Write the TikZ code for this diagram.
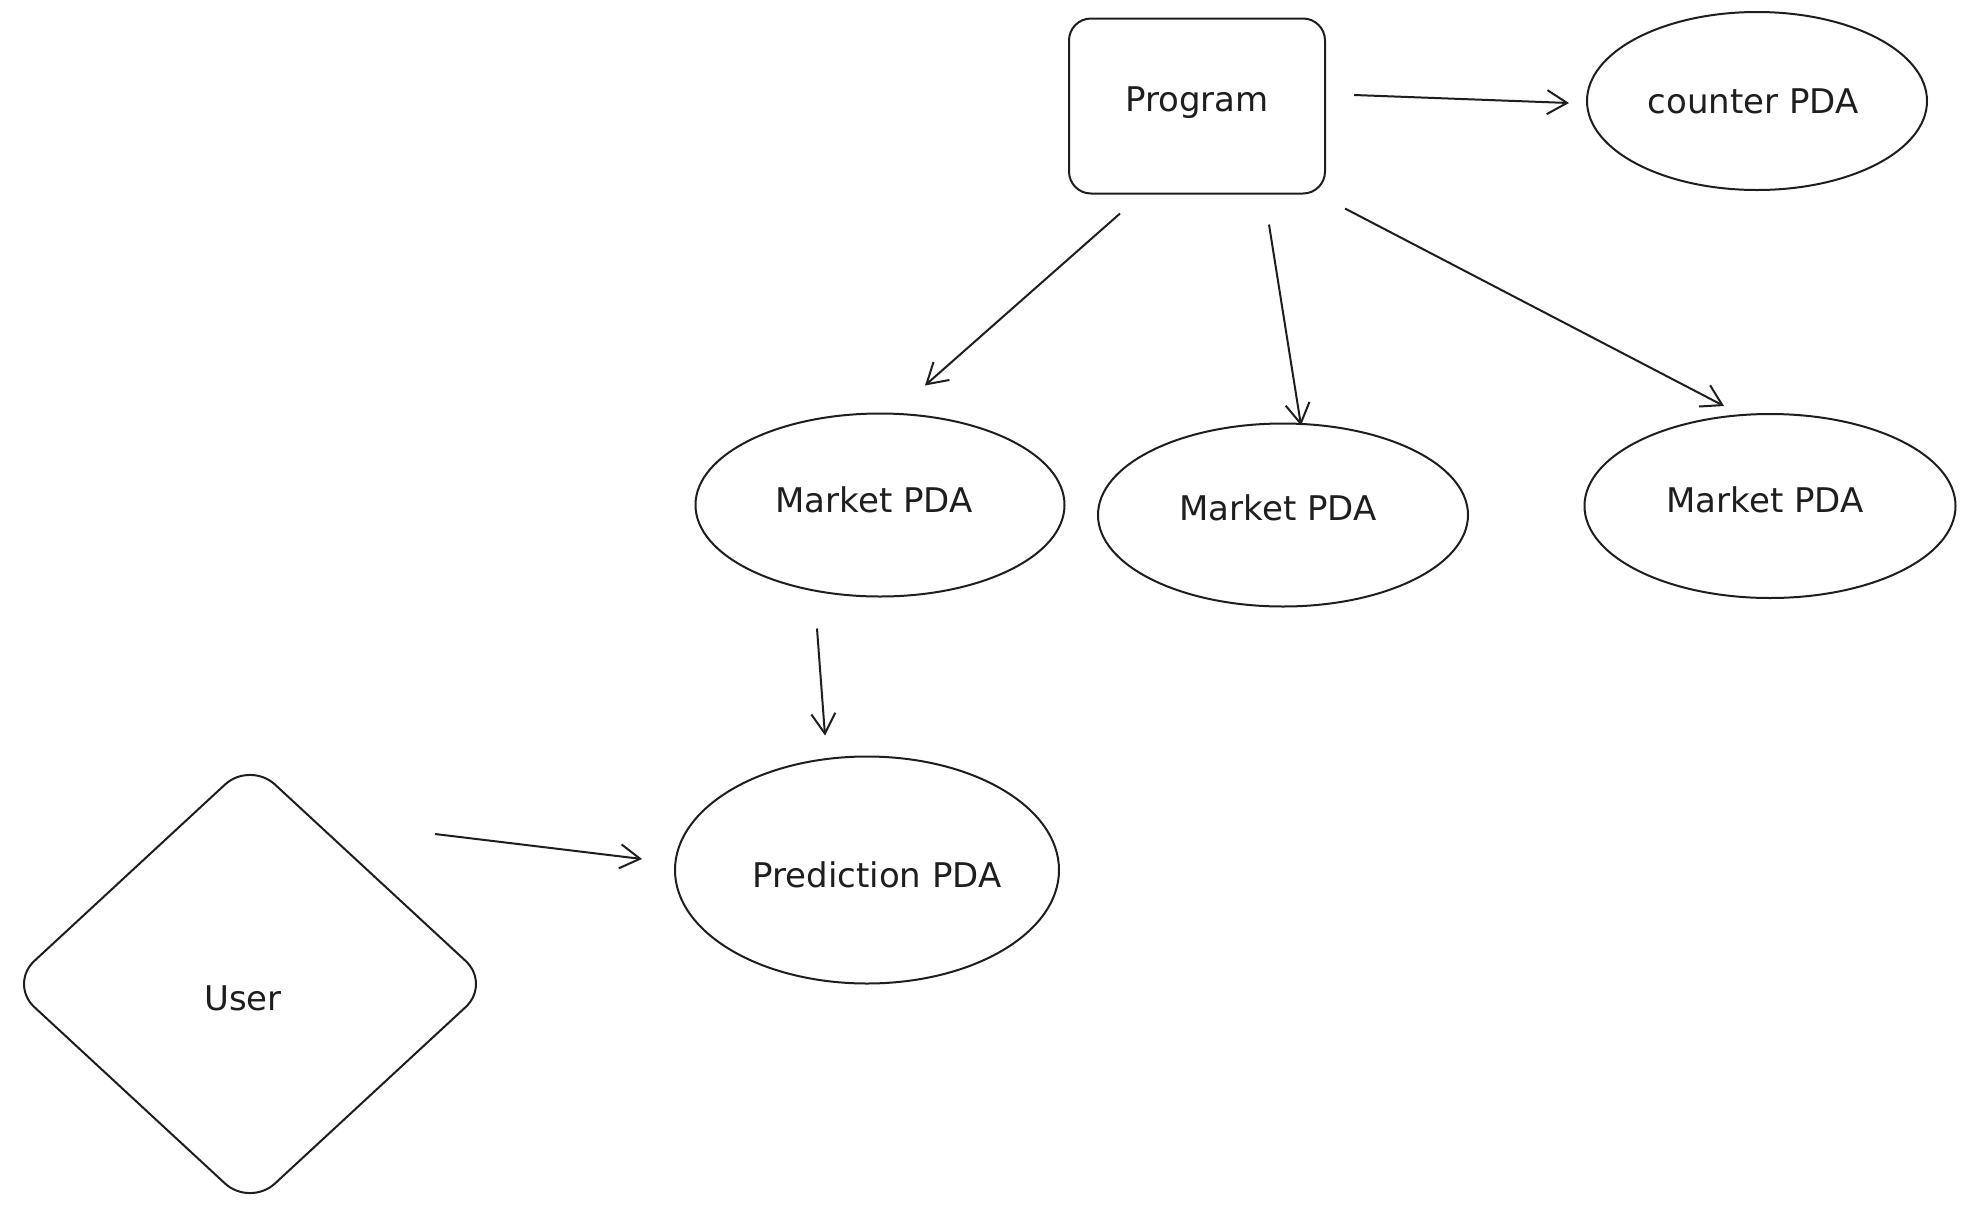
\documentclass[tikz,border=0pt]{standalone}
\usepackage{fontspec}
\setmainfont{DejaVu Sans}
\usetikzlibrary{shapes.geometric,arrows.meta,calc}
\definecolor{ink}{HTML}{1E1E1E}
\tikzset{
  base/.style={draw=ink, line width=2pt, inner sep=0pt},
  txt/.style={text=ink, inner sep=0pt, font=\fontsize{34}{40}\selectfont},
  boxnode/.style={base, rectangle, rounded corners=22pt, minimum width=256pt, minimum height=175pt},
  ovalnode/.style={base, ellipse},
  usernode/.style={base, diamond, rounded corners=34pt, minimum width=482pt, minimum height=446pt},
  arr/.style={draw=ink, line width=2pt, -{Straight Barb[length=20pt,width=24pt,line width=2pt]}}
}
\begin{document}
\begin{tikzpicture}[x=1pt,y=-1pt]
\useasboundingbox[fill=white] (0,0) rectangle (1966,1216);

\node[boxnode, label={[txt,yshift=3pt]center:Program}] (prog) at (1197,106) {};
\node[ovalnode, minimum width=340pt, minimum height=178pt, label={[txt,xshift=-4pt]center:counter PDA}] (counter) at (1757,101) {};
\node[ovalnode, minimum width=369pt, minimum height=183pt, label={[txt,xshift=-6pt,yshift=5pt]center:Market PDA}] (m1) at (880,505) {};
\node[ovalnode, minimum width=370pt, minimum height=183pt, label={[txt,xshift=-5pt,yshift=7pt]center:Market PDA}] (m2) at (1283,515) {};
\node[ovalnode, minimum width=371pt, minimum height=184pt, label={[txt,xshift=-5pt,yshift=6pt]center:Market PDA}] (m3) at (1770,506) {};
\node[ovalnode, minimum width=384pt, minimum height=227pt, label={[txt,xshift=10pt,yshift=-5pt]center:Prediction PDA}] (pred) at (867,870) {};
\node[usernode, label={[txt,xshift=-7pt,yshift=-14pt]center:User}] (user) at (250,984) {};

\draw[arr] ($(prog.east)+(28,-11)$) -- ($(counter.west)+(-17,2)$);
\draw[arr] ($(prog.south)+(-77,19)$) -- ($(m1.north)+(45,-27)$);
\draw[arr] ($(prog.south)+(72,30)$) -- ($(m2.north)+(18,3)$);
\draw[arr] ($(prog.south east)+(19,14)$) -- ($(m3.north)+(-46,-7)$);
\draw[arr] ($(m1.south)+(-63,31)$) -- ($(pred.north)+(-42,-20)$);
\draw[arr] ($(user.east)+(-57,-150)$) -- ($(pred.west)+(-32,-11)$);
\end{tikzpicture}
\end{document}
